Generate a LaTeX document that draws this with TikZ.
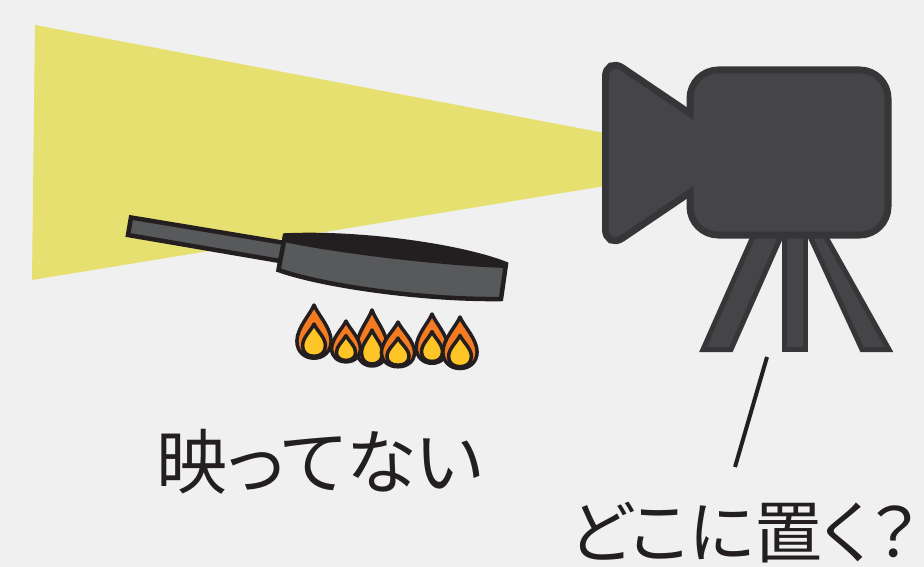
\documentclass[tikz,border=0pt]{standalone}
\usepackage{fontspec}
\newfontfamily\jpfont[RawFeature=+palt]{Noto Sans CJK JP}
\definecolor{bg}{HTML}{F0F0F0}
\definecolor{beam}{HTML}{E6E070}
\definecolor{ink}{HTML}{231F20}
\definecolor{pangray}{HTML}{58595B}
\definecolor{camfill}{HTML}{454547}
\definecolor{camline}{HTML}{363638}
\definecolor{flameorange}{HTML}{F47B20}
\definecolor{flameyellow}{HTML}{FFC425}
\tikzset{
  flameline/.style={draw=ink, line width=3.5pt, line join=round},
  panline/.style={draw=ink, line width=4.5pt, line join=miter},
  camleg/.style={fill=camfill, draw=camline, line width=5pt, line join=miter},
  label/.style={font=\jpfont\fontsize{71}{78}\selectfont, text=ink, inner sep=0pt,
    text height=54pt, text depth=5pt, anchor=base},
  flame/.pic={
    \filldraw[flameline, fill=flameorange]
      (0,0) .. controls (4,10) and (18,24) .. (18,38)
      .. controls (18,49) and (10,56) .. (0,56)
      .. controls (-10,56) and (-18,49) .. (-18,38)
      .. controls (-18,24) and (-4,10) .. (0,0) -- cycle;
    \filldraw[flameline, fill=flameyellow]
      (0,20) .. controls (3,27) and (12,34) .. (12,43)
      .. controls (12,50) and (7,54) .. (0,54)
      .. controls (-7,54) and (-12,50) .. (-12,43)
      .. controls (-12,34) and (-3,27) .. (0,20) -- cycle;
  }
}
\begin{document}
\begin{tikzpicture}[x={(1pt,0)}, y={(0,-1pt)}]
  % canvas
  \fill[bg] (0,0) rectangle (924,567);
  \useasboundingbox (0,0) rectangle (924,567);

  % light cone of the camera
  \fill[beam] (35,25) -- (605,133) -- (605,186) -- (32,280) -- cycle;

  % frying pan: handle, body, dark rim
  \filldraw[panline, fill=pangray] (131,217.5) -- (285,243) -- (280,261) -- (128,235) -- cycle;
  \filldraw[panline, fill=pangray]
    (285,235.5) .. controls (360,232) and (460,246) .. (506,264)
    -- (501,299)
    .. controls (420,300) and (320,285) .. (278.5,270) -- cycle;
  \fill[ink]
    (285,235.5) .. controls (360,232) and (460,246) .. (506,264)
    -- (505,268)
    .. controls (430,265) and (330,252) .. (284,242) -- cycle;

  % flames under the pan (back row first)
  \pic[xscale=0.95, yscale=0.95] at (314,305) {flame};
  \pic[xscale=0.875, yscale=1.0] at (372,310) {flame};
  \pic[xscale=0.875, yscale=0.88] at (432,314) {flame};
  \pic[xscale=0.8, yscale=0.73] at (346,321) {flame};
  \pic[xscale=0.92, yscale=0.8] at (398,322) {flame};
  \pic[xscale=0.95, yscale=0.92] at (460,317) {flame};

  % tripod legs
  \filldraw[camleg] (755,232) -- (783,232) -- (731,349.5) -- (703,349.5) -- cycle;
  \filldraw[camleg] (784.5,232) -- (805,232) -- (805,349.5) -- (784.5,349.5) -- cycle;
  \filldraw[camleg] (807,230) -- (822,230) -- (889,349.5) -- (862,349.5) -- cycle;

  % camera: outline pass, then fill pass to merge lens and body
  \draw[camline, line width=14pt, rounded corners=14pt]
    (609,63) -- (705,128) -- (705,178) -- (609,243) -- cycle;
  \draw[camline, line width=14pt, rounded corners=25pt]
    (693.5,73.5) rectangle (884.5,231.5);
  \fill[camfill, rounded corners=14pt]
    (609,63) -- (705,128) -- (705,178) -- (609,243) -- cycle;
  \fill[camfill, rounded corners=25pt]
    (693.5,73.5) rectangle (884.5,231.5);

  % leader and labels (placed on their baselines)
  \coordinate (leadtop) at (767,357);
  \coordinate (leadbot) at (735,467);
  \draw[ink, line width=4pt] (leadtop) -- (leadbot);
  \node[label] (notshown) at (320,488) {映ってない};
  \node[label, font=\jpfont\fontsize{68}{75}\selectfont] (where) at (744,557) {どこに置く？};
\end{tikzpicture}
\end{document}
